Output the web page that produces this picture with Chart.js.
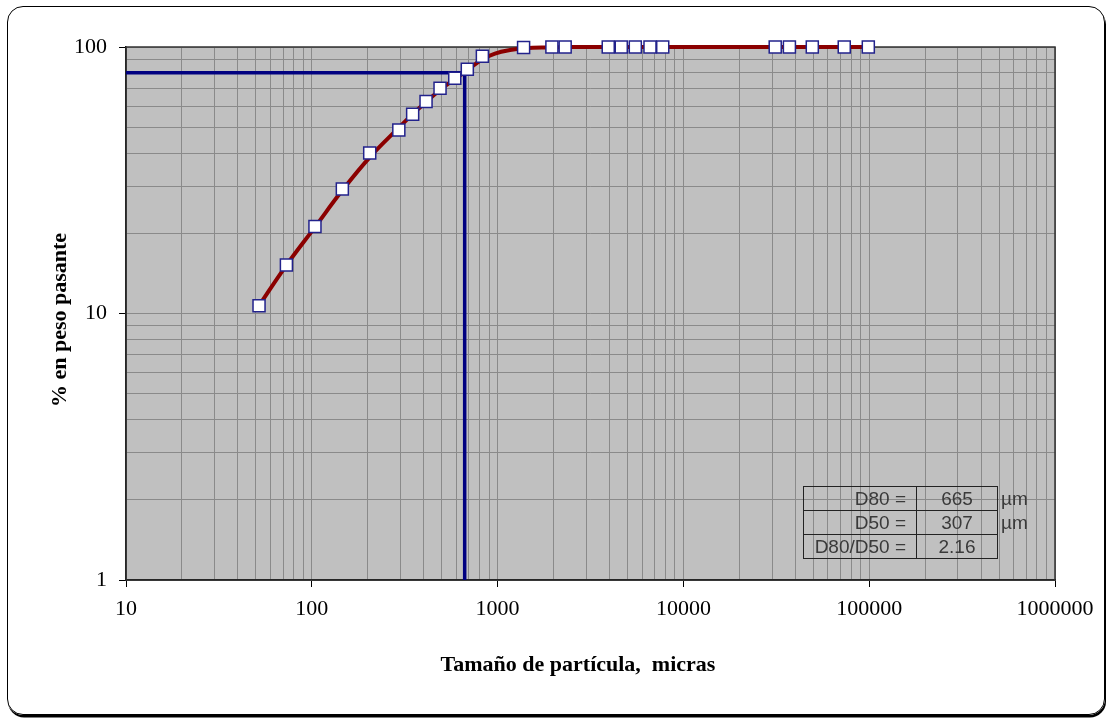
<!DOCTYPE html>
<html>
<head>
<meta charset="utf-8">
<script src="https://cdn.jsdelivr.net/npm/chart.js@4/dist/chart.umd.min.js"></script>
<style>
  html, body { margin: 0; padding: 0; background: #fff; }
  #wrap { position: relative; width: 1107px; height: 722px; overflow: hidden; }
  #frame { position: absolute; left: 7px; top: 6px; width: 1096px; height: 707px;
           border: 1.5px solid #000; border-radius: 16px;
           box-shadow: 1px 2.5px 0.5px #000; }
  #c { position: absolute; left: 0; top: 0; z-index: 1; }
  #tbl { position: absolute; z-index: 2; left: 803px; top: 486px;
         border-collapse: collapse; font-family: "Liberation Sans", Arial, sans-serif;
         font-size: 19px; color: #3a3a3a; }
  #tbl td { padding: 0; height: 23px; line-height: 23px; box-sizing: border-box; }
  #tbl td.l { border: 1.5px solid #222; width: 113px; text-align: right; padding-right: 10px; }
  #tbl td.v { border: 1.5px solid #222; width: 81px; text-align: center; }
  #tbl td.u { border: none; padding-left: 3px; width: 40px; text-align: left; }
</style>
</head>
<body>
<div id="wrap">
  <div id="frame"></div>
  <canvas id="c" width="1107" height="722"></canvas>
  <table id="tbl"></table>
</div>
<script>
// ---- data ----
// measured points (square markers)
const sizes   = [52, 73, 104, 146, 205, 294, 349, 412, 490, 588, 687, 828,
                 1380, 1960, 2310, 3940, 4630, 5510, 6610, 7740,
                 31200, 37200, 49400, 73400, 98900];
const passing = [10.7, 15.2, 21.2, 29.3, 40.0, 48.8, 55.9, 62.5, 70.0, 76.3, 82.5, 92.3,
                 99.5, 100, 100, 100, 100, 100, 100, 100,
                 100, 100, 100, 100, 100];
// smooth red curve, read along its path
const curveSize    = [52, 72.6, 104, 145, 206, 295, 350, 412, 490, 590, 684, 824,
                      968, 1166, 1405, 1800, 2450, 100000];
const curvePassing = [10.7, 15.1, 21.1, 28.8, 38.7, 49.9, 56.1, 62.2, 69.0, 75.9, 81.6, 89.8,
                      94.5, 97.4, 98.9, 99.65, 100, 100];
const d80Line = { x: [10, 665, 665], y: [80, 80, 1] };
const xTickLabels = [10, 100, 1000, 10000, 100000, 1000000];
const yTickLabels = [1, 10, 100];
const xTitle = 'Tamaño de partícula,  micras';
const yTitle = '% en peso pasante';
const tableLabels = ['D80 =', 'D50 =', 'D80/D50 ='];
const tableValues = ['665', '307', '2.16'];
const tableUnits  = ['µm', 'µm', ''];

// ---- table ----
const tbl = document.getElementById('tbl');
tableLabels.forEach((lab, i) => {
  const tr = document.createElement('tr');
  tr.innerHTML = '<td class="l">' + lab + '</td><td class="v">' + tableValues[i] +
                 '</td><td class="u">' + tableUnits[i] + '</td>';
  tbl.appendChild(tr);
});

// grid tick positions (1..9 per decade) between the labelled decades
function gridTicks(decades) {
  const out = [];
  for (let i = 0; i < decades.length; i++) {
    const d = decades[i];
    if (i === decades.length - 1) { out.push(d); break; }
    for (let m = 1; m <= 9; m++) out.push(d * m);
  }
  return out;
}

const serif = '"Liberation Serif", "Times New Roman", serif';

const decoPlugin = {
  id: 'deco',
  beforeDraw(chart) {
    const {ctx, chartArea: a} = chart;
    ctx.save();
    ctx.fillStyle = '#C0C0C0';
    ctx.fillRect(a.left, a.top, a.right - a.left, a.bottom - a.top);
    ctx.restore();
  },
  beforeDatasetsDraw(chart) {
    const {ctx, chartArea: a} = chart;
    ctx.save();
    ctx.strokeStyle = '#333';
    ctx.lineWidth = 1.5;
    ctx.strokeRect(a.left, a.top, a.right - a.left, a.bottom - a.top);
    ctx.restore();
  },
  afterDraw(chart) {
    const {ctx} = chart;
    ctx.save();
    ctx.fillStyle = '#000';
    ctx.font = 'bold 22px ' + serif;
    ctx.textAlign = 'center';
    ctx.textBaseline = 'middle';
    ctx.fillText(xTitle, 578, 665);
    ctx.translate(60, 320);
    ctx.rotate(-Math.PI / 2);
    ctx.fillText(yTitle, 0, 0);
    ctx.restore();
  }
};

new Chart(document.getElementById('c'), {
  type: 'line',
  data: {
    datasets: [
      {
        data: sizes.map((s, i) => ({x: s, y: passing[i]})),
        showLine: false,
        pointStyle: 'rect',
        pointRadius: 8.5,
        pointBackgroundColor: '#ffffff',
        pointBorderColor: '#22228c',
        pointBorderWidth: 1.5,
        clip: false,
        order: 0
      },
      {
        data: curveSize.map((s, i) => ({x: s, y: curvePassing[i]})),
        borderColor: '#8B0000',
        borderWidth: 4,
        tension: 0.4,
        pointRadius: 0,
        clip: false,
        order: 1
      },
      {
        data: d80Line.x.map((x, i) => ({x: x, y: d80Line.y[i]})),
        borderColor: '#000080',
        borderWidth: 3.5,
        pointRadius: 0,
        tension: 0,
        clip: false,
        order: 2
      }
    ]
  },
  options: {
    responsive: false,
    animation: false,
    events: [],
    layout: { padding: { top: 47, right: 52, left: 0, bottom: 0 } },
    plugins: { legend: { display: false }, tooltip: { enabled: false } },
    scales: {
      x: {
        type: 'logarithmic',
        min: 10, max: 1000000,
        afterFit(s) { s.height = 142; },
        afterBuildTicks(s) { s.ticks = gridTicks(xTickLabels).map(v => ({value: v})); },
        grid: {
          color: '#8a8a8a', lineWidth: 1, tickLength: 7,
          tickColor: ctx => xTickLabels.includes(ctx.tick && ctx.tick.value) ? '#000' : 'rgba(0,0,0,0)'
        },
        border: { display: true, color: '#000', width: 1.5 },
        ticks: {
          autoSkip: false, maxRotation: 0, padding: 9, color: '#000',
          font: { family: serif, size: 22 },
          callback: v => xTickLabels.includes(v) ? String(v) : ''
        },
        title: { display: false }
      },
      y: {
        type: 'logarithmic',
        min: 1, max: 100,
        afterFit(s) { s.width = 126; },
        afterBuildTicks(s) { s.ticks = gridTicks(yTickLabels).map(v => ({value: v})); },
        grid: {
          color: '#8a8a8a', lineWidth: 1, tickLength: 7,
          tickColor: ctx => yTickLabels.includes(ctx.tick && ctx.tick.value) ? '#000' : 'rgba(0,0,0,0)'
        },
        border: { display: true, color: '#000', width: 1.5 },
        ticks: {
          autoSkip: false, padding: 12, color: '#000',
          font: { family: serif, size: 22 },
          callback: v => yTickLabels.includes(v) ? String(v) : ''
        },
        title: { display: false }
      }
    }
  },
  plugins: [decoPlugin]
});
</script>
</body>
</html>
